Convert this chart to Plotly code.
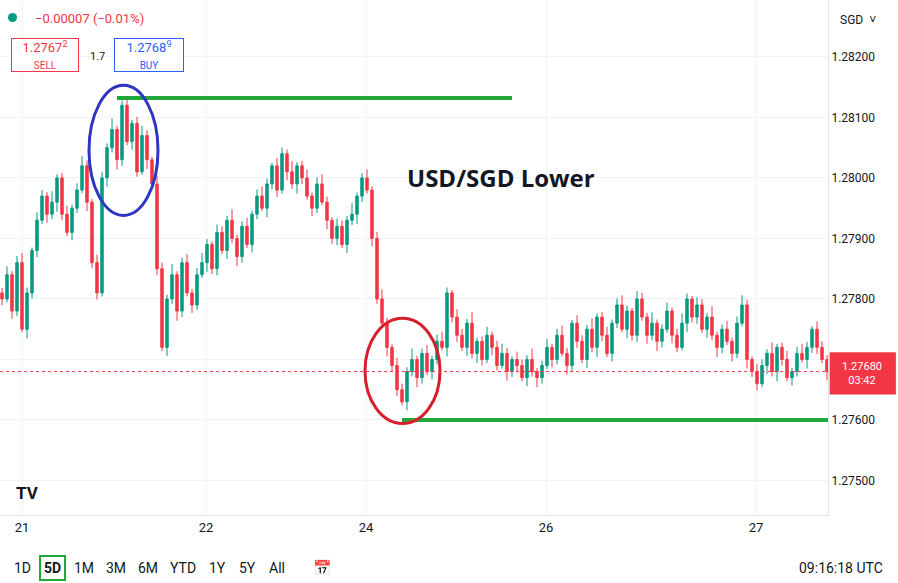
import plotly.graph_objects as go

# closes in 1e-4 above 1.2 (780 -> 1.2780)
closes_pts = [780,784,778,786,775,781,788,793,797,794,
796,800,794,791,795,798,802,796,786,781,
800,805,808,803,812,806,809,801,807,803,
799,785,772,780,784,778,786,781,779,784,
786,789,785,791,788,793,790,787,792,789,
794,797,795,799,802,798,804,801,799,802,
800,797,795,799,796,793,790,792,789,793,
794,797,800,798,
790,780,776,772,769,765,763,768,770,767,771,768,770,773,772,
781,777,774,772,776,771,773,770,774,772,769,771,768,770,769,767,770,768,767,769,
772,770,774,771,769,776,773,770,775,772,777,774,771,776,779,775,778,774,780,777,
774,776,773,775,778,774,772,776,780,777,779,775,777,774,772,775,773,771,776,779,
770,768,766,769,771,768,772,770,767,768,771,770,772,775,772,770,768]
wick_up = [8,14,6,11,16,9,5,13,10,7,18,6]
wick_dn = [10,6,13,8,5,15,9,11,6,14,8,16]
tick_pos = [4, 40.8, 72.8, 108.8, 150.8]
tick_txt = ["21", "22", "24", "26", "27"]
price_ticks = [1.275, 1.276, 1.277, 1.278, 1.279, 1.280, 1.281, 1.282]
toolbar = [("1D", 22), ("5D", 52), ("1M", 84), ("3M", 116), ("6M", 148), ("YTD", 183), ("1Y", 217), ("5Y", 247), ("All", 277)]

closes = [1.2 + v / 10000 for v in closes_pts]
opens = [closes[0] + 0.0001] + closes[:-1]
highs = [max(o, c) + wick_up[i % 12] / 100000 for i, (o, c) in enumerate(zip(opens, closes))]
lows = [min(o, c) - wick_dn[i % 12] / 100000 for i, (o, c) in enumerate(zip(opens, closes))]
idx = list(range(len(closes)))

fig = go.Figure(go.Candlestick(x=idx, open=opens, high=highs, low=lows, close=closes,
    increasing=dict(line=dict(color="#089981", width=1), fillcolor="#089981"),
    decreasing=dict(line=dict(color="#f23645", width=1), fillcolor="#f23645"),
    whiskerwidth=0, showlegend=False))

W = 828.0
def px(x):
    return x / W
def py(y):
    return 1 - y / 515.0

ymin, ymax = 1.27443, 1.28294
fig.update_layout(width=898, height=583, margin=dict(l=0, r=70, t=0, b=68),
    paper_bgcolor="white", plot_bgcolor="white",
    font=dict(family="Roboto, sans-serif", size=12, color="#131722"),
    xaxis=dict(range=[-0.4, 165.2], rangeslider=dict(visible=False), tickvals=tick_pos,
               ticktext=tick_txt, showgrid=True, gridcolor="#f0f3fa", zeroline=False,
               showline=True, linecolor="#e0e3eb", ticks="", tickfont=dict(size=13)),
    yaxis=dict(range=[ymin, ymax], side="right", tickvals=price_ticks,
               ticktext=[f"{v:.5f}" for v in price_ticks], showgrid=True, gridcolor="#f0f3fa",
               zeroline=False, showline=True, linecolor="#e0e3eb", ticks="", tickfont=dict(size=12)))

shapes = [
    dict(type="line", xref="x", yref="y", x0=23, x1=102, y0=1.28132, y1=1.28132, line=dict(color="#22a83a", width=4)),
    dict(type="line", xref="x", yref="y", x0=80, x1=165.2, y0=1.27600, y1=1.27600, line=dict(color="#22a83a", width=4)),
    dict(type="circle", xref="x", yref="y", x0=17.4, x1=31.2, y0=1.27938, y1=1.28153, line=dict(color="#2e35c4", width=3)),
    dict(type="circle", xref="x", yref="y", x0=72.6, x1=87.6, y0=1.27594, y1=1.27768, line=dict(color="#d61f2b", width=3)),
    dict(type="line", xref="paper", yref="y", x0=0, x1=1, y0=1.27680, y1=1.27680, line=dict(color="#f23645", width=1, dash="dot")),
    dict(type="rect", xref="paper", yref="y", x0=1.002, x1=1.082, y0=1.27642, y1=1.27712, fillcolor="#f23645", line=dict(width=0), layer="above"),
    dict(type="circle", xref="paper", yref="paper", x0=px(8), x1=px(17), y0=py(22), y1=py(13), fillcolor="#089981", line=dict(width=0)),
]
C = dict(xref="paper", yref="paper", showarrow=False, xanchor="center", yanchor="middle")
ann = [
    dict(x=px(405), y=1.2800, xref="paper", yref="y", text="<b>USD/SGD Lower</b>", showarrow=False, xanchor="left", font=dict(size=24, color="#131722", family="Open Sans, sans-serif")),
    dict(x=px(862), y=1.27677, xref="paper", yref="y", text="1.27680<br>03:42", showarrow=False, xanchor="center", font=dict(size=11, color="white")),
    dict(x=px(33), y=py(18), text="−0.00007 (−0.01%)", **{**C, "xanchor": "left"}, font=dict(size=13, color="#f23645")),
    dict(x=px(45), y=py(55), text="1.2767<sup>2</sup><br><span style='font-size:10px'>SELL</span>", **C,
         font=dict(size=13, color="#f23645"), bordercolor="#f23645", borderwidth=1, width=64, height=30, bgcolor="white"),
    dict(x=px(149), y=py(55), text="1.2768<sup>9</sup><br><span style='font-size:10px'>BUY</span>", **C,
         font=dict(size=13, color="#2962ff"), bordercolor="#2962ff", borderwidth=1, width=66, height=30, bgcolor="white"),
    dict(x=px(97), y=py(56), text="1.7", **C, font=dict(size=11)),
    dict(x=px(858), y=py(20), text="SGD  ˅", **C, font=dict(size=12)),
    dict(x=px(885), y=py(568), text="09:16:18 UTC", **{**C, "xanchor": "right"}, font=dict(size=14)),
    dict(x=px(322), y=py(568), text="📅", **C, font=dict(size=15)),
    dict(x=px(28), y=py(493), text="<b>TV</b>", **C, font=dict(size=17, color="#131722")),
]
for lab, xp in toolbar:
    a = dict(x=px(xp), y=py(568), text=lab, **C, font=dict(size=14))
    if lab == "5D":
        a.update(text="<b>5D</b>", bordercolor="#22a83a", borderwidth=2, borderpad=3)
    ann.append(a)
fig.update_layout(shapes=shapes, annotations=ann)
fig.write_html("out.html", config={"displayModeBar": False}, post_script="document.body.style.margin='0';")
